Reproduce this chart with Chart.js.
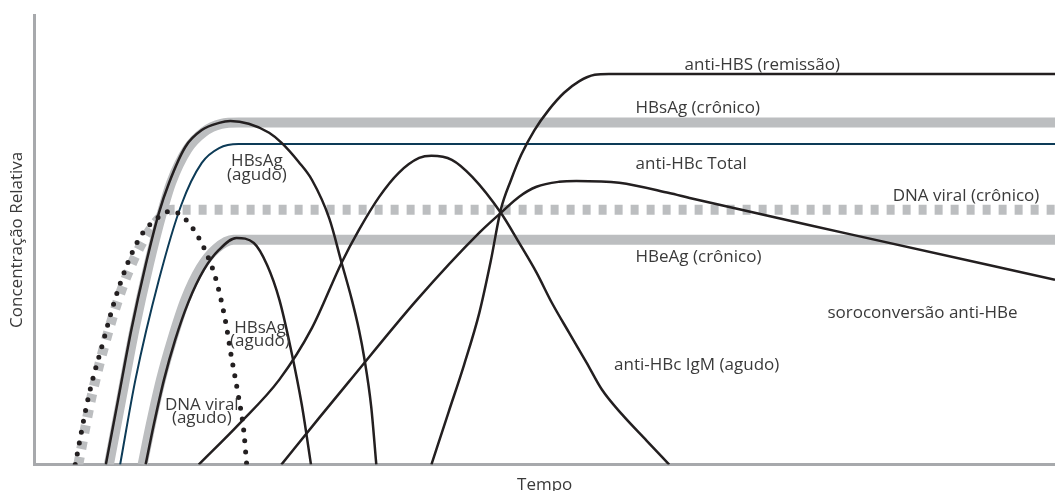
<!DOCTYPE html>
<html lang="pt-BR">
<head>
<meta charset="utf-8">
<title>Marcadores da hepatite B</title>
<script src="https://cdn.jsdelivr.net/npm/chart.js@4.4.1/dist/chart.umd.min.js"></script>
<style>
  body { margin: 0; background: #fff; }
  #box { width: 1055px; height: 491px; position: relative; }
</style>
</head>
<body>
<div id="box"><canvas id="hepChart"></canvas></div>
<script>
// pontos [tempo, concentração relativa] (escala 0-100)
const dnaCronico = [[4.3,0],[5.6,15.1],[7.3,30],[8.9,41.1],[10.9,50.7],[12.9,56.2],[13.5,56.7],[100,56.7]];
const dnaAgudo = [[4.0,0],[5.3,15.1],[6.6,26.2],[8.2,38.9],[10.2,50],[12.2,55.1],[13.4,56.4],[15.1,53.8],[16.8,47.3],[17.8,41.1],[18.7,32.2],[19.3,24],[20.0,15.1],[20.5,7.8],[20.8,0]];
const hbsCronico = [[7.3,0],[8.5,14.4],[9.8,30],[11.2,44.4],[12.5,56],[13.4,62.7],[15.0,70.2],[16.6,74],[18.3,75.8],[20.0,76.1],[100,76.1]];
const hbsAgudo = [[7.0,0],[8.2,14.4],[9.5,30],[10.9,44.4],[12.2,56],[13.2,62.7],[14.8,70.7],[16.4,74.4],[18.1,76],[19.2,76.4],[21.0,75.8],[23.0,73.8],[24.2,71.6],[25.9,67.3],[27.2,63.3],[28.9,54.7],[30.1,44.9],[31.1,36.7],[31.8,30],[32.3,24],[33.0,12.9],[33.5,0]];
const antiHbcTotal = [[8.4,0],[9.9,18.9],[12.2,41.1],[14.4,57.8],[16.4,67.1],[18.1,70.4],[20.0,71.3],[100,71.3]];
const hbeCronico = [[10.6,0],[11.4,8.9],[12.4,18.9],[13.5,27.8],[14.8,36.7],[16.3,43.8],[17.8,48],[19.5,50],[100,50]];
const hbeAgudo = [[10.9,0],[11.7,8.9],[12.7,18.9],[13.8,27.8],[15.1,36.2],[16.6,43.3],[18.1,47.8],[19.8,50.4],[21.5,49.3],[22.8,44.4],[24.0,36.7],[25.1,26],[26.2,13.3],[27.1,0]];
const antiHbcIgm = [[16.1,0],[20.0,8.9],[24.0,18.9],[27.2,30.4],[30.1,44.9],[31.8,52.2],[33.8,59.6],[35.7,64.9],[37.7,68.2],[38.9,68.7],[40.9,67.8],[42.9,64],[45.7,56],[47.5,49.3],[49.2,42.7],[50.7,36],[52.4,29.3],[54.1,22.7],[55.6,16.7],[57.6,11.1],[60.0,5.3],[62.2,0]];
const soroconversao = [[24.2,0],[27.9,10.4],[30.8,18.4],[37.5,36.7],[43.6,51.6],[45.7,56],[47.5,59.6],[49.2,61.8],[51.4,62.9],[53.1,63.1],[57.3,62.7],[62.2,60.4],[64.2,59.3],[80.2,51.1],[100,41.1]];
const antiHbs = [[38.9,0],[40.6,11.8],[42.1,22.2],[43.6,33.8],[44.7,45.1],[45.7,56.7],[46.7,63.3],[47.7,68.9],[49.0,74.4],[50.4,78.9],[51.9,82.7],[53.4,85.3],[54.9,86.7],[56.3,86.9],[100,86.9]];

// rótulos: texto, ponto de ancoragem (linha de base da 1a linha) na mesma escala
const rotulos = [
  { linhas: ['anti-HBS (remissão)'], x: 63.7, y: 87.8, alinhar: 'left' },
  { linhas: ['HBsAg (crônico)'], x: 58.9, y: 78.2, alinhar: 'left' },
  { linhas: ['anti-HBc Total'], x: 58.9, y: 65.7, alinhar: 'left' },
  { linhas: ['DNA viral (crônico)'], x: 84.1, y: 58.7, alinhar: 'left' },
  { linhas: ['HBeAg (crônico)'], x: 58.9, y: 45.1, alinhar: 'left' },
  { linhas: ['soroconversão anti-HBe'], x: 77.7, y: 32.7, alinhar: 'left' },
  { linhas: ['anti-HBc IgM (agudo)'], x: 56.8, y: 21.1, alinhar: 'left' },
  { linhas: ['HBsAg', '(agudo)'], x: 21.8, y: 66.4, alinhar: 'center' },
  { linhas: ['HBsAg', '(agudo)'], x: 22.1, y: 29.3, alinhar: 'center' },
  { linhas: ['DNA viral', '(agudo)'], x: 16.4, y: 12.2, alinhar: 'center' }
];

const CINZA = '#bcbec0';
const PRETO = '#231f20';
const AZUL = '#0d3b57';
const TEXTO = '#3a3a3a';
const FONTE = '"Open Sans", Roboto, sans-serif';

Chart.defaults.font.family = FONTE;
Chart.defaults.font.size = 17;
Chart.defaults.color = TEXTO;

// plugin simples que escreve os rótulos perto das curvas
const pluginRotulos = {
  id: 'rotulos',
  afterDatasetsDraw(chart) {
    const ctx = chart.ctx;
    const sx = chart.scales.x;
    const sy = chart.scales.y;
    ctx.save();
    ctx.font = '17px ' + FONTE;
    ctx.fillStyle = TEXTO;
    ctx.textBaseline = 'alphabetic';
    rotulos.forEach(r => {
      ctx.textAlign = r.alinhar;
      const px = sx.getPixelForValue(r.x);
      const py = sy.getPixelForValue(r.y);
      r.linhas.forEach((t, i) => {
        ctx.fillText(t, px, py + i * 13.5);
      });
    });
    ctx.restore();
  }
};

function serie(dados, cor, largura, extra) {
  return Object.assign({
    data: dados,
    borderColor: cor,
    borderWidth: largura,
    pointRadius: 0,
    fill: false,
    cubicInterpolationMode: 'monotone'
  }, extra || {});
}

const ctx = document.getElementById('hepChart').getContext('2d');
const hepChart = new Chart(ctx, {
  type: 'line',
  data: {
    datasets: [
      serie(hbsCronico, CINZA, 10, { order: 5 }),
      serie(hbeCronico, CINZA, 10, { order: 5 }),
      serie(dnaCronico, CINZA, 10, { order: 4, borderDash: [8, 8] }),
      serie(antiHbcTotal, AZUL, 2, { order: 2 }),
      serie(hbsAgudo, PRETO, 2.5, { order: 1 }),
      serie(hbeAgudo, PRETO, 2.5, { order: 1 }),
      serie(antiHbcIgm, PRETO, 2.5, { order: 1 }),
      serie(soroconversao, PRETO, 2.5, { order: 1 }),
      serie(antiHbs, PRETO, 2.5, { order: 1 }),
      serie(dnaAgudo, PRETO, 5, { order: 0, borderDash: [0, 11], borderCapStyle: 'round' })
    ]
  },
  options: {
    responsive: true,
    maintainAspectRatio: false,
    animation: false,
    layout: { padding: { top: 15, left: 0, right: 0, bottom: -4 } },
    plugins: {
      legend: { display: false },
      tooltip: { enabled: false }
    },
    scales: {
      x: {
        type: 'linear',
        min: 0,
        max: 100,
        ticks: { display: false },
        grid: { display: false, drawTicks: false },
        border: { display: true, color: '#a7a9ac', width: 3 },
        title: { display: true, text: 'Tempo', padding: { top: 10, bottom: 0 } }
      },
      y: {
        min: 0,
        max: 100,
        ticks: { display: false },
        grid: { display: false, drawTicks: false },
        border: { display: true, color: '#a7a9ac', width: 3 },
        title: { display: true, text: 'Concentração Relativa', padding: { top: 7, bottom: 7 } }
      }
    }
  },
  plugins: [pluginRotulos]
});
</script>
</body>
</html>
